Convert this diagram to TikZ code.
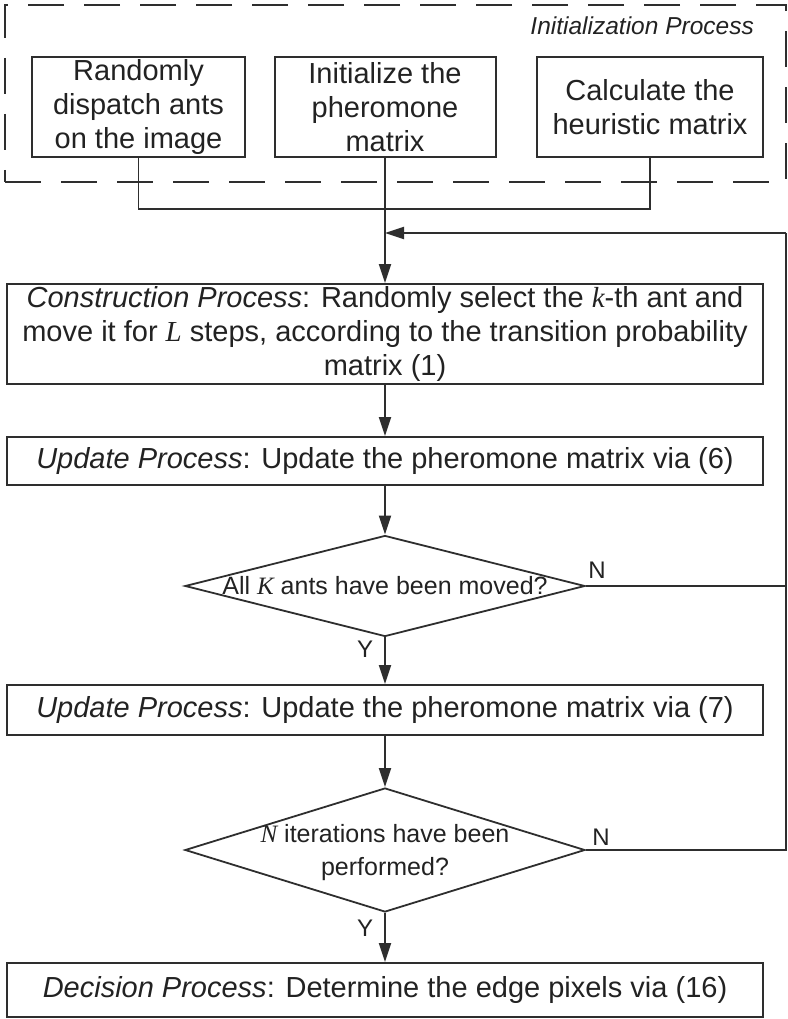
\documentclass[tikz,border=0pt]{standalone}
\usepackage{fontspec}
\setmainfont{Liberation Sans}
\newfontfamily\serifit{Liberation Serif}
\newcommand\mvar[1]{{\serifit\itshape #1}}
\usetikzlibrary{arrows.meta,shapes.geometric}
\definecolor{ink}{HTML}{222222}
\definecolor{edge}{HTML}{2E2E2E}

\begin{document}
\begin{tikzpicture}[x=1pt,y=-1pt,
  font=\fontsize{29}{34}\selectfont, text=ink,
  box/.style={draw=edge, line width=2pt, inner sep=0pt, align=center},
  decision/.style={draw=edge, shape=diamond, line width=1.8pt, inner sep=0pt,
                   minimum width=400pt, minimum height=#1},
  qtext/.style={inner sep=0pt, align=center, font=\fontsize{25}{33}\selectfont},
  flow/.style={draw=edge, line width=1.8pt, -{Triangle[length=19pt,width=12pt]}},
  link/.style={draw=edge, line width=1.8pt},
  rail/.style={draw=edge, line width=1.5pt},
  branch/.style={inner sep=0pt, font=\fontsize{24}{28}\selectfont},
]
\useasboundingbox (0,0) rectangle (787,1019);

% initialization group
\node[draw=edge, line width=2pt, dash pattern=on 36pt off 20pt, inner sep=0pt,
      minimum width=781pt, minimum height=177pt] (initframe) at (395.5,93.5) {};
\node[anchor=base east, inner sep=0pt, font=\fontsize{24.5}{28}\selectfont\itshape]
      (inittitle) at (754,35) {Initialization Process};

\node[box, minimum width=213pt, minimum height=100pt] (b1) at (138.5,107)
      {Randomly\\dispatch ants\\on the image};
\node[box, minimum width=221pt, minimum height=100pt] (b2) at (385,107)
      {Initialize the\\pheromone\\matrix};
\node[box, minimum width=226pt, minimum height=100pt] (b3) at (650,107)
      {Calculate the\\heuristic matrix};

% main loop
\node[box, minimum width=756pt, minimum height=100pt] (cons) at (385,334)
      {\textit{Construction Process}: Randomly select the \mvar{k}-th ant and\\
       move it for \mvar{L} steps, according to the transition probability\\
       matrix (1)};
\node[box, minimum width=756pt, minimum height=48pt] (up1) at (385,461)
      {\textit{Update Process}: Update the pheromone matrix via (6)};
\node[decision=101pt] (dia1) at (385,586) {};
\node[qtext] (q1) at (385,586) {All \mvar{K} ants have been moved?};
\node[box, minimum width=756pt, minimum height=50pt] (up2) at (385,710)
      {\textit{Update Process}: Update the pheromone matrix via (7)};
\node[decision=124pt] (dia2) at (385,850) {};
\node[qtext] (q2) at (385,853) {\mvar{N} iterations have been\\performed?};
\node[box, minimum width=756pt, minimum height=54pt] (dec) at (385,990)
      {\textit{Decision Process}: Determine the edge pixels via (16)};

% branch labels
\node[branch] (n1) at (597,570) {N};
\node[branch] (y1) at (365,649) {Y};
\node[branch] (n2) at (601,837) {N};
\node[branch] (y2) at (365,928) {Y};

% connectors
\coordinate (join) at (385,209);
\coordinate (railtop) at (786,233);
\draw[link] (b1.south) |- (join);
\draw[link] (b3.south) |- (join);
\draw[flow] (b2.south) -- (cons.north);
\draw[rail] (dia2.east) -| (railtop);
\draw[flow] (railtop) -- (railtop -| cons.north);
\draw[rail] (dia1.east) -- (dia1.east -| railtop);
\draw[flow] (cons.south) -- (up1.north);
\draw[flow] (up1.south) -- (dia1.north);
\draw[flow] (dia1.south) -- (up2.north);
\draw[flow] (up2.south) -- (dia2.north);
\draw[flow] (dia2.south) -- (dec.north);
\end{tikzpicture}
\end{document}
